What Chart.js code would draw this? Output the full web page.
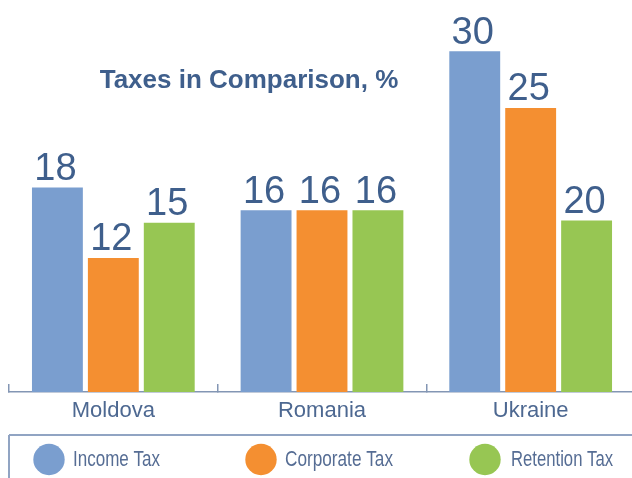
<!DOCTYPE html>
<html>
<head>
<meta charset="utf-8">
<script src="https://cdn.jsdelivr.net/npm/chart.js@4/dist/chart.umd.min.js"></script>
<style>
  html, body { margin: 0; padding: 0; background: #ffffff; overflow: hidden; }
  #wrap { width: 640px; height: 478px; }
  canvas { display: block; }
</style>
</head>
<body>
<div id="wrap"><canvas id="c" width="640" height="478"></canvas></div>
<script>
// ---- data ----
const countries = ['Moldova', 'Romania', 'Ukraine'];
const seriesNames = ['Income Tax', 'Corporate Tax', 'Retention Tax'];
// bar heights as drawn in the picture
const incomeTax = [18, 16, 30];
const corporateTax = [11.8, 16, 25];
const retentionTax = [14.9, 16, 15.1];
// numbers printed above the bars
const incomeLabels = ['18', '16', '30'];
const corporateLabels = ['12', '16', '25'];
const retentionLabels = ['15', '16', '20'];
const chartTitle = 'Taxes in Comparison, %';

const seriesColors = ['#7a9ecf', '#f48f31', '#97c653'];
const textBlue = '#3f5f8c';

const valueLabelPlugin = {
  id: 'valueLabels',
  afterDatasetsDraw(chart) {
    const ctx = chart.ctx;
    ctx.save();
    ctx.font = '38px "Liberation Sans", Arial, sans-serif';
    ctx.fillStyle = textBlue;
    ctx.textAlign = 'center';
    ctx.textBaseline = 'alphabetic';
    chart.data.datasets.forEach((ds, di) => {
      const meta = chart.getDatasetMeta(di);
      meta.data.forEach((bar, i) => {
        ctx.fillText(ds.printed[i], bar.x - 2, bar.y - 7.5);
      });
    });
    ctx.restore();
  }
};

const titlePlugin = {
  id: 'innerTitle',
  afterDraw(chart) {
    const ctx = chart.ctx;
    ctx.save();
    ctx.font = 'bold 26px "Liberation Sans", Arial, sans-serif';
    ctx.fillStyle = textBlue;
    ctx.textAlign = 'center';
    ctx.textBaseline = 'alphabetic';
    ctx.fillText(chartTitle, 249, 88);
    ctx.restore();
  }
};

const legendPlugin = {
  id: 'boxLegend',
  afterDraw(chart) {
    const ctx = chart.ctx;
    const left = chart.chartArea.left;
    ctx.save();
    ctx.strokeStyle = '#91a4c3';
    ctx.lineWidth = 2;
    ctx.beginPath();
    ctx.moveTo(left, 435);
    ctx.lineTo(chart.width, 435);
    ctx.moveTo(left, 435);
    ctx.lineTo(left, chart.height);
    ctx.stroke();
    const circleX = [49, 261, 485];
    const textX = [73, 285, 511];
    const textW = [87, 108, 102];
    ctx.font = '22px "Liberation Sans", Arial, sans-serif';
    ctx.textAlign = 'left';
    ctx.textBaseline = 'alphabetic';
    chart.data.datasets.forEach((ds, i) => {
      ctx.fillStyle = ds.backgroundColor;
      ctx.beginPath();
      ctx.arc(circleX[i], 459.5, 15.7, 0, Math.PI * 2);
      ctx.fill();
      ctx.fillStyle = '#566d94';
      ctx.fillText(ds.label, textX[i], 466, textW[i]);
    });
    ctx.restore();
  }
};

new Chart(document.getElementById('c'), {
  type: 'bar',
  data: {
    labels: countries,
    datasets: [
      { label: seriesNames[0], data: incomeTax, printed: incomeLabels, backgroundColor: seriesColors[0] },
      { label: seriesNames[1], data: corporateTax, printed: corporateLabels, backgroundColor: seriesColors[1] },
      { label: seriesNames[2], data: retentionTax, printed: retentionLabels, backgroundColor: seriesColors[2] }
    ]
  },
  options: {
    responsive: false,
    animation: false,
    devicePixelRatio: 1,
    layout: { padding: { left: 9, right: 5, top: 0, bottom: 26 } },
    datasets: { bar: { categoryPercentage: 0.804, barPercentage: 0.91, borderWidth: 0 } },
    plugins: {
      legend: { display: false },
      title: { display: false },
      tooltip: { enabled: false }
    },
    scales: {
      x: {
        offset: true,
        grid: {
          display: true,
          offset: true,
          drawOnChartArea: false,
          drawTicks: true,
          tickLength: -8,
          color: '#8396b4',
          lineWidth: 1.5
        },
        border: { display: true, color: '#8396b4', width: 1.5 },
        ticks: {
          color: '#4d6891',
          padding: 14,
          font: { family: '"Liberation Sans", Arial, sans-serif', size: 22 }
        },
        afterFit(scale) { scale.height = 60; }
      },
      y: {
        display: false,
        min: 0,
        max: 34.5
      }
    }
  },
  plugins: [valueLabelPlugin, titlePlugin, legendPlugin]
});
</script>
</body>
</html>
